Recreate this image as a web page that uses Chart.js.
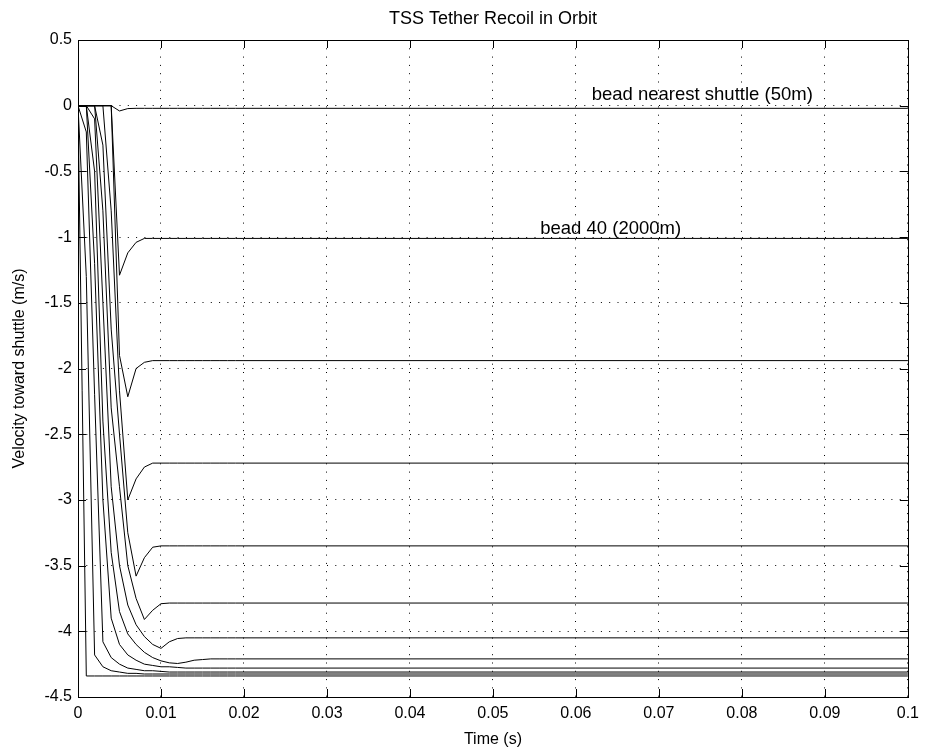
<!DOCTYPE html>
<html>
<head>
<meta charset="utf-8">
<script src="https://cdn.jsdelivr.net/npm/chart.js@4/dist/chart.umd.min.js"></script>
<style>
  html, body { margin: 0; padding: 0; background: #ffffff; }
  canvas { display: block; }
</style>
</head>
<body>
<canvas id="c" width="926" height="753"></canvas>
<script>
// ---- data ----
const timeS = [0, 0.001, 0.002, 0.003, 0.004, 0.005, 0.006, 0.007, 0.008, 0.009, 0.010,
               0.011, 0.012, 0.013, 0.014, 0.015, 0.016, 0.017, 0.018, 0.019, 0.020, 0.1];

const beadA  = [0, -4.34, -4.34, -4.34, -4.34, -4.34, -4.34, -4.34, -4.34, -4.34, -4.34,
                -4.34, -4.34, -4.34, -4.34, -4.34, -4.34, -4.34, -4.34, -4.34, -4.34, -4.34];
const beadB  = [0, -1.30, -4.18, -4.27, -4.30, -4.31, -4.32, -4.32, -4.325, -4.325, -4.325,
                -4.325, -4.325, -4.325, -4.325, -4.325, -4.325, -4.325, -4.325, -4.325, -4.325, -4.325];
const beadC  = [0, -0.20, -2.20, -4.08, -4.20, -4.25, -4.28, -4.29, -4.30, -4.30, -4.305,
                -4.31, -4.31, -4.31, -4.31, -4.31, -4.31, -4.31, -4.31, -4.31, -4.31, -4.31];
const beadD  = [0, 0, -1.20, -3.00, -3.90, -4.10, -4.18, -4.22, -4.25, -4.26, -4.27,
                -4.27, -4.275, -4.28, -4.28, -4.28, -4.28, -4.28, -4.28, -4.28, -4.28, -4.28];
const beadE  = [0, 0, -0.50, -2.40, -3.40, -3.85, -4.02, -4.10, -4.16, -4.20, -4.225,
                -4.24, -4.245, -4.235, -4.22, -4.215, -4.21, -4.21, -4.21, -4.21, -4.21, -4.21];
const beadF  = [0, 0, -0.10, -1.50, -2.90, -3.50, -3.80, -3.95, -4.04, -4.10, -4.13,
                -4.08, -4.055, -4.05, -4.05, -4.05, -4.05, -4.05, -4.05, -4.05, -4.05, -4.05];
const beadG  = [0, 0, 0, -0.80, -2.30, -2.90, -3.50, -3.75, -3.91, -3.84, -3.79,
                -3.785, -3.785, -3.785, -3.785, -3.785, -3.785, -3.785, -3.785, -3.785, -3.785, -3.785];
const beadH  = [0, 0, 0, -0.30, -1.70, -2.50, -3.25, -3.58, -3.44, -3.36, -3.35,
                -3.35, -3.35, -3.35, -3.35, -3.35, -3.35, -3.35, -3.35, -3.35, -3.35, -3.35];
const beadI  = [0, 0, 0, 0, -0.80, -2.17, -3.00, -2.84, -2.75, -2.72, -2.72,
                -2.72, -2.72, -2.72, -2.72, -2.72, -2.72, -2.72, -2.72, -2.72, -2.72, -2.72];
const beadJ  = [0, 0, 0, 0, 0, -1.90, -2.215, -2.00, -1.953, -1.94, -1.94,
                -1.94, -1.94, -1.94, -1.94, -1.94, -1.94, -1.94, -1.94, -1.94, -1.94, -1.94];
const bead40 = [0, 0, 0, 0, 0, -1.29, -1.12, -1.04, -1.01, -1.01, -1.01,
                -1.01, -1.01, -1.01, -1.01, -1.01, -1.01, -1.01, -1.01, -1.01, -1.01, -1.01];
const beadShuttle = [0, 0, 0, 0, 0, -0.04, -0.022, -0.02, -0.02, -0.02, -0.02,
                -0.02, -0.02, -0.02, -0.02, -0.02, -0.02, -0.02, -0.02, -0.02, -0.02, -0.02];

const seriesList = [beadA, beadB, beadC, beadD, beadE, beadF, beadG, beadH, beadI, beadJ, bead40, beadShuttle];

const xTicks = [0, 0.01, 0.02, 0.03, 0.04, 0.05, 0.06, 0.07, 0.08, 0.09, 0.1];
const yTicks = [0.5, 0, -0.5, -1, -1.5, -2, -2.5, -3, -3.5, -4, -4.5];

const titleText = 'TSS Tether Recoil in Orbit';
const xLabel = 'Time (s)';
const yLabel = 'Velocity toward shuttle (m/s)';
const notes = [
  { text: 'bead nearest shuttle (50m)', t: 0.0619, v: 0.08 },
  { text: 'bead 40 (2000m)', t: 0.0557, v: -0.935 }
];

// ---- chart ----
const FONT = '"Liberation Sans", Arial, Helvetica, sans-serif';
const fmt = v => String(Math.round(v * 1000) / 1000);

const datasets = seriesList.map(vals => ({
  data: timeS.map((t, i) => ({ x: t, y: vals[i] })),
  borderColor: '#000000',
  borderWidth: 1,
  pointRadius: 0,
  tension: 0,
  fill: false
}));

const decor = {
  id: 'decor',
  afterDraw(chart) {
    const ctx = chart.ctx;
    const a = chart.chartArea;
    const xs = chart.scales.x, ys = chart.scales.y;
    ctx.save();
    ctx.strokeStyle = '#000';
    ctx.lineWidth = 1;
    ctx.strokeRect(Math.round(a.left) + 0.5, Math.round(a.top) + 0.5,
                   Math.round(a.right - a.left), Math.round(a.bottom - a.top));
    const TL = 8;
    ctx.beginPath();
    xTicks.forEach(v => {
      const px = Math.round(xs.getPixelForValue(v)) + 0.5;
      ctx.moveTo(px, a.bottom); ctx.lineTo(px, a.bottom - TL);
      ctx.moveTo(px, a.top); ctx.lineTo(px, a.top + TL);
    });
    yTicks.forEach(v => {
      const py = Math.round(ys.getPixelForValue(v)) + 0.5;
      ctx.moveTo(a.left, py); ctx.lineTo(a.left + TL, py);
      ctx.moveTo(a.right, py); ctx.lineTo(a.right - TL, py);
    });
    ctx.stroke();
    ctx.fillStyle = '#000';
    ctx.textAlign = 'center';
    ctx.textBaseline = 'middle';
    ctx.font = '18px ' + FONT;
    ctx.fillText(titleText, (a.left + a.right) / 2, 19);
    ctx.font = '16px ' + FONT;
    ctx.fillText(xLabel, (a.left + a.right) / 2, 740);
    ctx.save();
    ctx.translate(20, (a.top + a.bottom) / 2);
    ctx.rotate(-Math.PI / 2);
    ctx.fillText(yLabel, 0, 0);
    ctx.restore();
    ctx.font = '18.5px ' + FONT;
    ctx.textAlign = 'left';
    notes.forEach(n => {
      ctx.fillText(n.text, xs.getPixelForValue(n.t), ys.getPixelForValue(n.v));
    });
    ctx.restore();
  }
};

new Chart(document.getElementById('c'), {
  type: 'line',
  data: { datasets },
  options: {
    responsive: false,
    animation: false,
    events: [],
    layout: { padding: { top: 40, right: 17, left: 0, bottom: 0 } },
    plugins: { legend: { display: false }, title: { display: false }, tooltip: { enabled: false } },
    scales: {
      x: {
        type: 'linear', min: 0, max: 0.1,
        afterFit(s) { s.height = 56; },
        afterBuildTicks(s) { s.ticks = xTicks.map(v => ({ value: v })); },
        grid: { color: '#000', lineWidth: 1, drawTicks: false, tickLength: 0 },
        border: { display: false, dash: [1, 7.3] },
        ticks: { color: '#000', font: { family: FONT, size: 16 }, padding: 7, maxRotation: 0,
                 callback: v => fmt(v) }
      },
      y: {
        type: 'linear', min: -4.5, max: 0.5,
        afterFit(s) { s.width = 78; },
        afterBuildTicks(s) { s.ticks = yTicks.map(v => ({ value: v })); },
        grid: { color: '#000', lineWidth: 1, drawTicks: false, tickLength: 0 },
        border: { display: false, dash: [1, 7.3] },
        ticks: { color: '#000', font: { family: FONT, size: 16 }, padding: 6,
                 callback: v => fmt(v) }
      }
    }
  },
  plugins: [decor]
});
</script>
</body>
</html>
